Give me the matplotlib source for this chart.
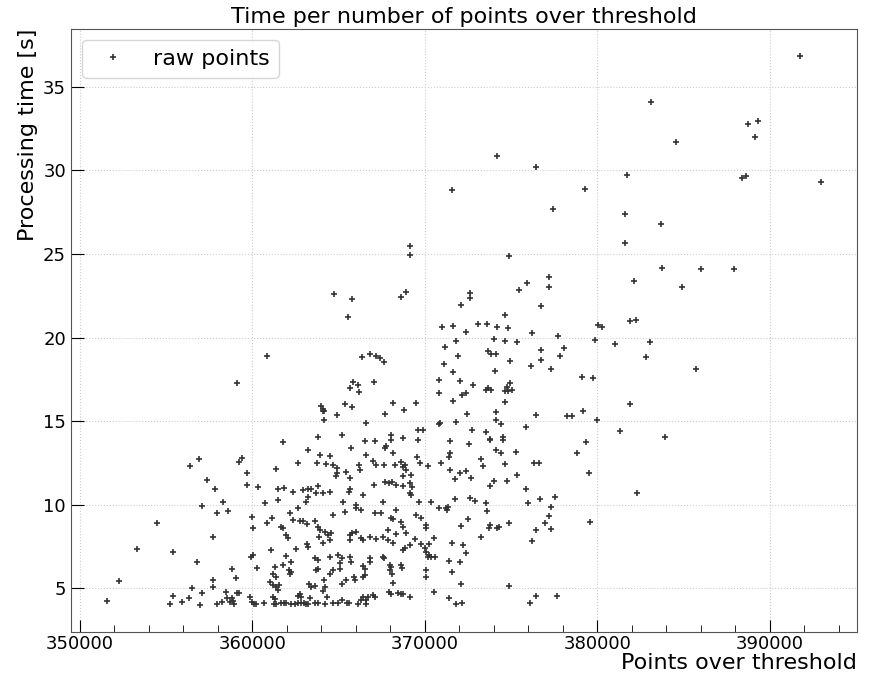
import matplotlib
matplotlib.use("Agg")
import matplotlib.pyplot as plt
from matplotlib.ticker import MultipleLocator

# Puntos sobre el umbral y tiempo de procesado
puntos_zona_baja = [
    351570, 352280, 353310, 354500, 355410, 355250, 355430, 355930, 356350, 356490,
    356950, 357100, 356810, 356390, 356930, 357390, 357090, 357840, 357940, 358290,
    358610, 357720, 357720, 357760, 357990, 358230, 358460, 358520, 358700, 358820,
    358950, 358880, 359100, 359250, 358860, 359060, 359100, 359250,
]
tiempo_zona_baja = [
    4.26, 5.44, 7.34, 8.92, 7.14, 4.04, 4.54, 4.16, 4.42, 5.04,
    4.02, 4.72, 6.58, 12.32, 12.74, 11.5, 9.94, 10.94, 9.52, 10.16,
    9.64, 8.08, 5.48, 5.08, 4.08, 4.18, 4.78, 4.4, 4.2, 4.4,
    4.05, 4.25, 17.28, 12.58, 6.14, 5.62, 4.7, 4.7,
]

puntos_zona_densa = [
    359400, 359710, 359680, 360350, 361370, 361760, 363240, 362660, 363920, 364500,
    363760, 364310, 364690, 364890, 364920, 364850, 365420, 365710, 365660, 366200,
    366240, 366520, 367100, 367780, 367680, 366620, 367010, 367200, 367620, 368160,
    368300, 368650, 368740, 368840, 368940, 368740, 369230, 369580, 369710, 367680,
    367930, 368130, 368360, 367060, 368740, 369130, 369290, 369130, 369230, 369650,
    361470, 361830, 362340, 362920, 363240, 363440, 363820, 363690, 364110, 361470,
    360730, 363150, 363240, 364500, 365610, 365700, 366000, 366040, 365270, 366430,
    366330, 367580, 367140, 367490, 368320, 368070, 368160, 368650, 368740, 369520,
    369810, 370100, 365370, 362180, 362660, 362370, 362760, 362950, 363180, 363650,
    364690, 360020, 360060, 360870, 361180, 361700, 361760, 361990, 362080, 363820,
    363960, 364210, 364400, 364560, 363880, 364110, 364500, 365660, 365810, 365660,
    366040, 366330, 366430, 366810, 367200, 367580, 367870, 367870, 368160, 368360,
    368940, 369420, 368840, 368740, 369130, 369810, 370000, 370250, 361120, 359960,
    360060, 360310, 362570, 363240, 363180, 361990, 362280, 361760, 361310, 361220,
    361370, 362140, 362220, 362280, 361020, 361220, 361410, 361560, 361500, 363630,
    363820, 363690, 363820, 363300, 363440, 363630, 364150, 364210, 364110, 364500,
    364980, 365180, 365080, 365080, 364690, 364540, 365230, 365420, 365890, 365940,
    365700, 365710, 366430, 366530, 366810, 366810, 366530, 366430, 367580, 367620,
    367970, 368070, 367970, 368130, 368160, 368650, 368710, 367930, 368030, 368450,
    368650, 368740, 369130,
]
tiempo_zona_densa = [
    12.78, 11.88, 11.18, 11.08, 12.12, 13.72, 13.28, 12.52, 12.98, 12.92,
    12.52, 12.44, 12.38, 12.18, 11.88, 11.72, 11.98, 13.38, 11.58, 12.38,
    12.08, 13.78, 13.78, 13.48, 13.38, 12.98, 12.64, 12.38, 12.38, 13.08,
    12.38, 12.58, 12.28, 12.38, 12.08, 11.72, 11.78, 12.88, 12.52, 11.38,
    11.32, 11.38, 11.18, 11.18, 11.12, 11.28, 11.08, 10.68, 10.58, 10.18,
    10.92, 11.02, 10.78, 10.88, 10.94, 10.94, 11.14, 10.68, 10.72, 10.28,
    10.12, 10.18, 10.48, 10.78, 10.78, 10.92, 9.98, 9.78, 10.18, 10.58,
    9.68, 10.18, 9.48, 9.48, 9.68, 9.22, 9.12, 8.98, 8.64, 9.38,
    9.18, 8.78, 9.58, 9.48, 9.78, 9.08, 9.04, 9.04, 8.84, 9.02,
    9.38, 9.28, 8.58, 8.88, 9.22, 8.68, 8.58, 8.18, 7.98, 8.64,
    8.48, 8.38, 8.18, 8.28, 8.08, 7.68, 7.88, 8.18, 8.28, 7.88,
    8.38, 7.98, 7.88, 8.08, 7.92, 8.08, 8.48, 7.88, 7.68, 8.24,
    8.28, 7.92, 7.38, 7.28, 7.58, 7.62, 7.38, 6.98, 7.28, 6.88,
    6.98, 6.22, 7.32, 7.48, 7.64, 6.92, 6.58, 6.38, 6.28, 5.88,
    5.68, 6.08, 5.88, 5.98, 5.38, 5.18, 5.08, 5.18, 4.88, 6.78,
    6.68, 6.08, 6.18, 5.28, 5.08, 5.12, 5.48, 5.08, 4.82, 6.88,
    6.98, 6.78, 6.48, 6.18, 6.08, 5.88, 5.28, 5.48, 5.68, 5.48,
    6.88, 6.58, 6.32, 6.18, 6.78, 6.58, 5.78, 5.68, 6.84, 6.78,
    6.38, 6.28, 6.08, 5.88, 5.32, 6.38, 6.22, 4.78, 4.68, 4.72,
    4.68, 4.68, 4.48,
]

puntos_suelo = [
    359870, 359970, 360100, 360210, 360690, 361220, 361310, 361270, 361410, 361700,
    361830, 361950, 362280, 362470, 362660, 362760, 362860, 362660, 362860, 362990,
    363150, 363240, 363340, 363630, 363820, 364210, 364350, 364690, 364980, 365180,
    365470, 365610, 366140, 366290, 366430, 366580, 366580, 366720, 367010, 367100,
]
tiempo_suelo = [
    4.48, 4.18, 4.08, 4.08, 4.12, 4.48, 4.38, 4.08, 4.08, 4.12,
    4.12, 4.12, 4.08, 4.08, 4.52, 4.68, 4.48, 4.12, 4.12, 4.12,
    4.08, 4.08, 4.44, 4.12, 4.12, 4.08, 4.48, 4.12, 4.12, 4.32,
    4.12, 4.12, 4.08, 4.32, 4.48, 4.08, 4.32, 4.48, 4.58, 4.48,
]

puntos_zona_media = [
    360870, 364730, 365790, 365560, 368610, 368900, 366390, 366850, 367200, 367430,
    367620, 365850, 366140, 365660, 366200, 367060, 364000, 364110, 364190, 364080,
    365370, 365790, 364940, 364190, 368150, 367720, 368800, 369500, 366620, 369610,
    369900, 363840, 365180, 368050, 368030, 368740, 369610,
]
tiempo_zona_media = [
    18.92, 22.58, 22.28, 21.24, 22.42, 22.72, 18.84, 19.04, 18.92, 18.78,
    18.52, 17.32, 17.18, 16.98, 16.76, 17.34, 15.88, 15.72, 15.58, 15.58,
    16.04, 15.82, 15.34, 15.08, 16.08, 15.44, 15.68, 16.1, 14.88, 14.44,
    14.44, 14.02, 14.18, 14.14, 13.88, 13.96, 13.88,
]

puntos_derecha_baja = [
    371450, 372570, 373800, 374530, 371450, 371410, 370970, 370190, 371490, 371740,
    372030, 372370, 372660, 373280, 373370, 374110, 374400, 375310, 374630, 376310,
    376600, 373990, 373800, 374790, 375340, 375890, 378820, 379360, 379510, 370390,
    371740, 372600, 372890, 373530, 373610, 370830, 371250, 371350, 371290, 376000,
    376710, 377570, 377300, 377200, 376950, 377300, 376430, 376240, 379610, 374880,
    374310, 374190, 373760, 373720, 372510, 372130, 373240, 370100, 370520, 370250,
    371580, 372220, 372410, 370060, 370190, 370390, 370580, 371390, 372030, 370100,
    370100, 371600, 372120, 374880, 370520, 371390, 371790, 372180, 376080, 376460,
    377680,
]
tiempo_derecha_baja = [
    13.78, 13.64, 13.88, 13.88, 13.12, 12.88, 12.52, 12.32, 12.08, 11.54,
    11.88, 12.04, 11.62, 12.74, 12.32, 13.24, 13.08, 13.18, 12.42, 12.48,
    12.48, 11.44, 11.12, 11.44, 11.76, 10.94, 13.12, 13.72, 11.92, 10.16,
    10.36, 10.42, 10.24, 10.12, 9.62, 9.78, 9.78, 9.88, 9.68, 10.12,
    10.32, 10.48, 9.84, 9.32, 8.88, 8.54, 8.48, 7.84, 8.96, 8.88,
    8.64, 8.58, 8.78, 8.6, 9.14, 8.72, 8.04, 8.58, 8.02, 7.62,
    7.72, 7.56, 7.08, 7.18, 6.88, 6.84, 6.88, 6.62, 6.56, 6.08,
    5.68, 5.98, 5.24, 5.14, 4.78, 4.44, 4.08, 4.12, 4.14, 4.56,
    4.54,
]

puntos_derecha_media = [
    374860, 377200, 377180, 375910, 375440, 372640, 372600, 372120, 376760, 374630,
    371000, 371640, 372370, 373090, 373610, 374190, 374850, 376210, 380030, 380290,
    377740, 379880, 381020, 371160, 371830, 374000, 374630, 375370, 373660, 373860,
    374150, 376760, 378050, 377860, 376760, 376180, 377340, 371910, 371100, 371640,
    372070, 370810, 370830, 371640, 374920, 374050, 372800, 372180, 372370, 373530,
    373660, 373860, 374630, 374770, 374960, 375080, 374820, 374630, 379110, 379750,
    372470, 374110, 374110, 374440, 376430, 378260, 378550, 379170, 380000, 370810,
    370910, 371790, 372760, 373570, 373800, 374530, 375890,
]
tiempo_derecha_media = [
    24.88, 23.64, 23.04, 23.24, 22.84, 22.68, 22.34, 21.96, 21.88, 21.32,
    20.62, 20.68, 20.32, 20.78, 20.78, 20.64, 20.58, 20.24, 20.72, 20.64,
    20.08, 19.88, 19.62, 19.42, 19.82, 19.94, 19.78, 19.74, 19.18, 19.04,
    19.02, 19.28, 19.36, 18.88, 18.68, 18.32, 18.14, 18.88, 18.44, 17.92,
    17.38, 17.48, 16.68, 16.2, 18.62, 18.02, 17.18, 16.58, 16.68, 16.88,
    16.98, 16.84, 16.78, 17.04, 17.28, 16.84, 16.78, 16.16, 17.62, 17.6,
    15.42, 15.52, 15.08, 14.84, 15.38, 15.28, 15.28, 15.6, 15.08, 14.82,
    14.88, 14.92, 14.48, 14.36, 13.94, 14.04, 14.62,
]

puntos_zona_alta = [
    391730, 383140, 388720, 389300, 389120, 384550, 381750, 388370, 388640, 392990,
    381620, 383720, 381620, 383780, 386040, 387910, 382120, 384940, 381890, 382230,
    383040, 382810, 385710, 381890, 381330, 383910, 382290, 374170, 376480, 371560,
    379280, 377410, 369170, 369170,
]
tiempo_zona_alta = [
    36.84, 34.12, 32.78, 32.98, 32.02, 31.72, 29.74, 29.54, 29.64, 29.32,
    27.38, 26.82, 25.66, 24.18, 24.12, 24.12, 23.36, 23.02, 20.96, 21.02,
    19.76, 18.82, 18.14, 16.02, 14.42, 14.02, 10.72, 30.84, 30.2, 28.8,
    28.86, 27.66, 25.48, 24.94,
]

# Juntar todas las zonas
puntos = (puntos_zona_baja + puntos_zona_densa + puntos_suelo + puntos_zona_media
          + puntos_derecha_baja + puntos_derecha_media + puntos_zona_alta)
tiempos = (tiempo_zona_baja + tiempo_zona_densa + tiempo_suelo + tiempo_zona_media
           + tiempo_derecha_baja + tiempo_derecha_media + tiempo_zona_alta)

fig = plt.figure(figsize=(8.73, 6.78), dpi=100)
ax = fig.add_axes([0.0813, 0.0678, 0.9004, 0.89])

ax.plot(puntos, tiempos, linestyle="none", marker="+", markersize=5,
        markeredgewidth=1.2, color="#333333", label="raw points")

ax.set_title("Time per number of points over threshold", fontsize=16, pad=4)
ax.set_xlabel("Points over threshold", fontsize=16, loc="right", labelpad=0)
ax.set_ylabel("Processing time [s]", fontsize=16, loc="top")

ax.xaxis.set_minor_locator(MultipleLocator(2000))
ax.tick_params(which="both", direction="in", labelsize=13)
ax.tick_params(which="major", length=9)
ax.tick_params(which="minor", length=5)
ax.tick_params(axis="x", pad=2)
ax.grid(True, linestyle=":", color="#cccccc", linewidth=0.8)

for lado in ax.spines.values():
    lado.set_color("#555555")

ax.legend(loc="upper left", fontsize=16)

fig.savefig("out.png", dpi=100)
